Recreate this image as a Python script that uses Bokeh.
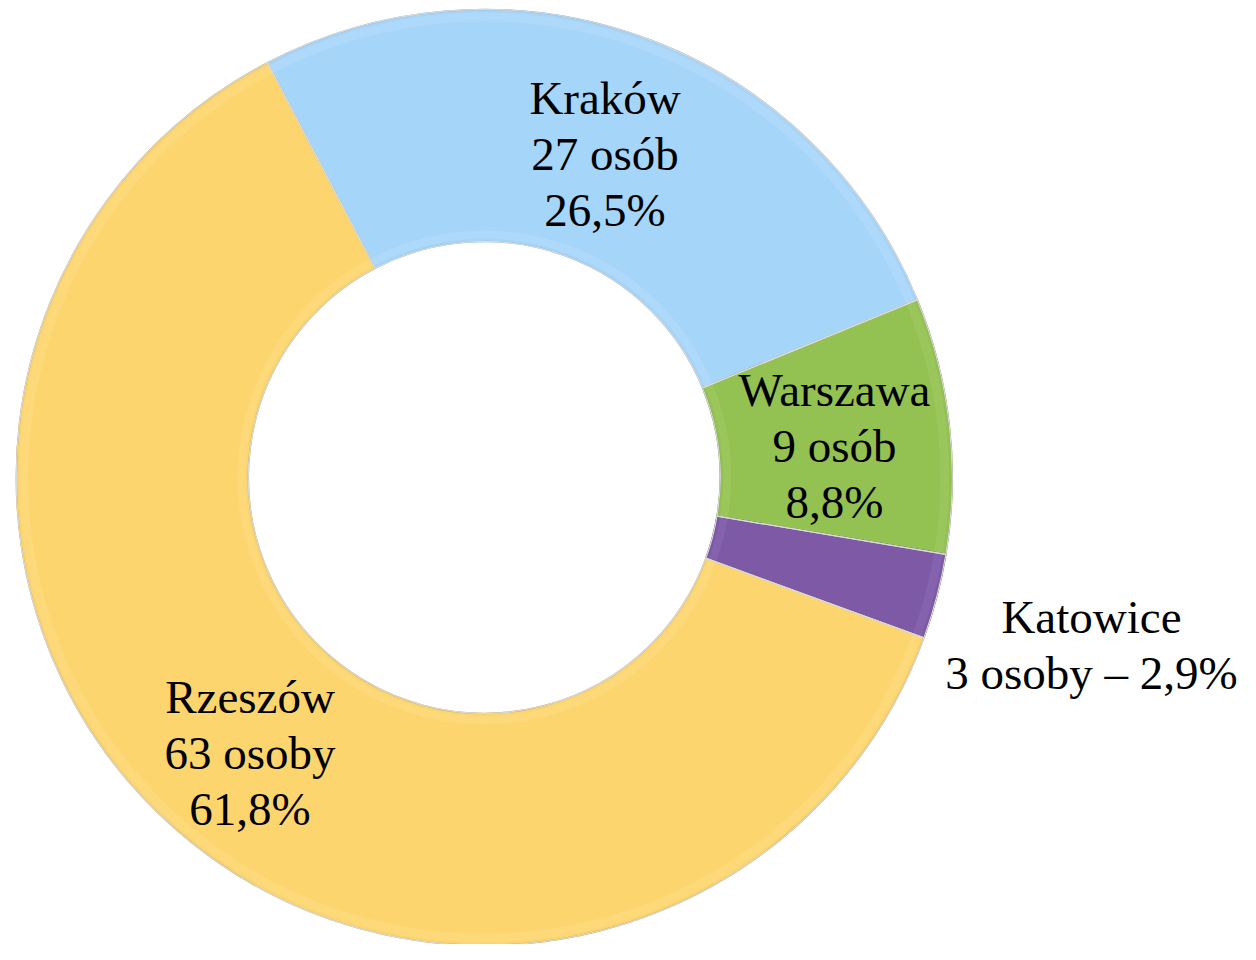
import math
from bokeh.plotting import figure
from bokeh.models import Range1d, ColumnDataSource
from bokeh.core.properties import value
from bokeh.embed import file_html
from bokeh.resources import INLINE

# ---- data ----
cities = ["Kraków", "Warszawa", "Katowice", "Rzeszów"]
counts = [27, 9, 3, 63]
count_labels = ["27 osób", "9 osób", "3 osoby", "63 osoby"]
percent_labels = ["26,5%", "8,8%", "2,9%", "61,8%"]

# ---- style ----
colors = ["#A6D5FA", "#93C152", "#7D59A6", "#FDD56F"]
edge_colors = ["#86B4DA", "#6E9536", "#5A3D80", "#CFA94A"]
light_colors = ["#C8E6FD", "#B2D878", "#A081C6", "#FFE697"]
W_PX, H_PX = 1240, 944
CX, CY = 490, 475          # in reference pixel space (y measured upward)
R_OUT, R_IN = 474, 239
START_DEG = 117.6
LABEL_R = [357, 357, 636, 360]
FONT = "Liberation Serif"

scale = W_PX / 1256.0
yspan = H_PX / scale
y0 = (960 - yspan) / 2

total = sum(counts)
starts, ends, mids = [], [], []
cum = 0
for c in counts:
    a0 = START_DEG - cum / total * 360
    a1 = START_DEG - (cum + c) / total * 360
    starts.append(math.radians(a0))
    ends.append(math.radians(a1))
    mids.append(math.radians((a0 + a1) / 2))
    cum += c

p = figure(width=W_PX, height=H_PX, output_backend="svg", toolbar_location=None,
           x_range=Range1d(0, 1256), y_range=Range1d(y0, y0 + yspan),
           min_border=0, min_border_left=0, min_border_right=0,
           min_border_top=0, min_border_bottom=0)
p.axis.visible = False
p.grid.visible = False
p.outline_line_color = None
p.background_fill_color = "white"
p.border_fill_color = "white"

src = ColumnDataSource(dict(x=[CX] * 4, y=[CY] * 4, start=ends, end=starts,
                            color=colors, edge=edge_colors, light=light_colors))

# base wedges
p.annular_wedge(x="x", y="y", inner_radius=R_IN, outer_radius=R_OUT,
                start_angle="start", end_angle="end", direction="anticlock",
                fill_color="color", line_color="edge", line_width=1.5, source=src)
# subtle bevel highlights near outer and inner edges
p.annular_wedge(x="x", y="y", inner_radius=R_OUT - 12, outer_radius=R_OUT - 3,
                start_angle="start", end_angle="end", direction="anticlock",
                fill_color="light", fill_alpha=0.25, line_color=None, source=src)
p.annular_wedge(x="x", y="y", inner_radius=R_IN + 3, outer_radius=R_IN + 11,
                start_angle="start", end_angle="end", direction="anticlock",
                fill_color="light", fill_alpha=0.25, line_color=None, source=src)
# slice separators
p.annular_wedge(x="x", y="y", inner_radius=R_IN, outer_radius=R_OUT,
                start_angle="start", end_angle="end", direction="anticlock",
                fill_color=None, line_color="#DADADA", line_width=1.2, source=src)

# labels
lx, ly, lt = [], [], []
for i, name in enumerate(cities):
    lx.append(CX + LABEL_R[i] * math.cos(mids[i]))
    ly.append(CY + LABEL_R[i] * math.sin(mids[i]))
    if name == "Katowice":
        lt.append(f"{name}\n{count_labels[i]} – {percent_labels[i]}")
    else:
        lt.append(f"{name}\n{count_labels[i]}\n{percent_labels[i]}")

p.text(x=lx, y=ly, text=lt, text_align="center", text_baseline="middle",
       text_font=value(FONT), text_font_size="47px", text_color="black",
       text_line_height=1.08, y_offset=8)

open("out.html", "w").write(file_html(p, INLINE))
